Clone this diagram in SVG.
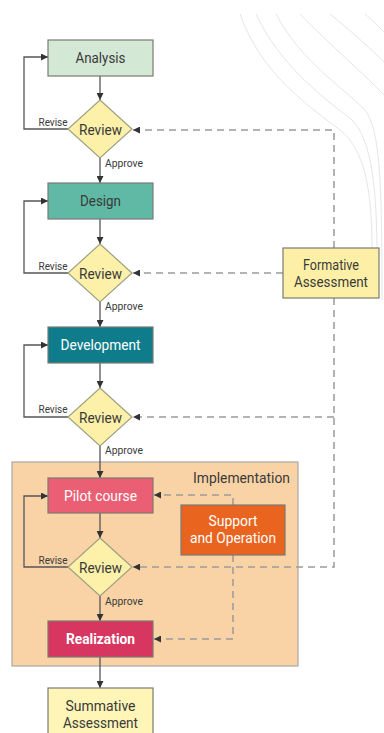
<svg xmlns="http://www.w3.org/2000/svg" width="384" height="733" viewBox="0 0 384 733">
  <style>
    .box { stroke: #7a7a72; stroke-width: 1.2; }
    .dia { fill: #fdf1a9; stroke: #a09f80; stroke-width: 1.2; }
    .t { font-family: Roboto, "Liberation Sans", sans-serif; fill: #3a3a3a; text-anchor: middle; }
    .tw { fill: #ffffff; }
    .lbl { font-size: 14px; }
    .rv { font-size: 15px; }
    .sm { font-size: 10px; }
    .flow { fill: none; stroke: #555; stroke-width: 1.3; }
    .dash { fill: none; stroke: #9a9a9a; stroke-width: 1.5; stroke-dasharray: 7 5; }
    .deco { fill: none; stroke: #e6e6e6; stroke-width: 1; }
  </style>
  <defs>
    <marker id="ah" viewBox="0 0 10 10" refX="10" refY="5" markerWidth="7" markerHeight="7" markerUnits="userSpaceOnUse" orient="auto">
      <path d="M0,0 L10,5 L0,10 z" fill="#333"/>
    </marker>
  </defs>

  <rect width="384" height="733" fill="#ffffff"/>

  <!-- decorative contour lines, top right -->
  <g id="decoration">
    <path class="deco" d="M240,14 C260,70 300,100 340,130 C365,150 372,190 372,250"/>
    <path class="deco" d="M256,14 C280,65 320,95 352,120 C372,140 377,190 377,258"/>
    <path class="deco" d="M276,14 C300,60 340,85 365,110 C380,130 382,180 382,300"/>
    <path class="deco" d="M300,14 C330,45 360,70 384,95"/>
    <path class="deco" d="M330,14 C350,30 372,50 384,62"/>
    <path class="deco" d="M365,14 C372,20 380,28 384,32"/>
  </g>

  <!-- implementation phase container -->
  <g id="implementation">
    <rect x="12" y="462" width="286" height="204" fill="#f9d3a5" stroke="#a8a8a8" stroke-width="1.2"/>
    <text class="t" x="290" y="483" font-size="14" text-anchor="end" style="text-anchor:end" textLength="97" lengthAdjust="spacingAndGlyphs">Implementation</text>
  </g>

  <!-- connectors -->
  <g id="connectors">
    <!-- main flow -->
    <path class="flow" d="M100,76 V100" marker-end="url(#ah)"/>
    <path class="flow" d="M100,158 V183" marker-end="url(#ah)"/>
    <path class="flow" d="M100,219 V244" marker-end="url(#ah)"/>
    <path class="flow" d="M100,302 V327" marker-end="url(#ah)"/>
    <path class="flow" d="M100,363 V388" marker-end="url(#ah)"/>
    <path class="flow" d="M100,446 V478" marker-end="url(#ah)"/>
    <path class="flow" d="M100,513 V538" marker-end="url(#ah)"/>
    <path class="flow" d="M100,596 V621" marker-end="url(#ah)"/>
    <path class="flow" d="M100,657 V688" marker-end="url(#ah)"/>
    <!-- revise loops -->
    <path class="flow" d="M68,129 H24 V57 H48" marker-end="url(#ah)"/>
    <path class="flow" d="M68,273 H24 V201 H48" marker-end="url(#ah)"/>
    <path class="flow" d="M68,417 H24 V345 H48" marker-end="url(#ah)"/>
    <path class="flow" d="M68,567 H24 V496 H48" marker-end="url(#ah)"/>
    <!-- formative assessment feedback -->
    <path class="dash" d="M334,248 V130 H133" marker-end="url(#ah)"/>
    <path class="dash" d="M283,273 H133" marker-end="url(#ah)"/>
    <path class="dash" d="M334,298 V567 H133" marker-end="url(#ah)"/>
    <path class="dash" d="M334,417 H133" marker-end="url(#ah)"/>
    <!-- support and operation -->
    <path class="dash" d="M233,505 V495 H154" marker-end="url(#ah)"/>
    <path class="dash" d="M233,555 V639 H154" marker-end="url(#ah)"/>

    <!-- edge labels -->
    <text class="t sm" x="53" y="126" textLength="29" lengthAdjust="spacingAndGlyphs">Revise</text>
    <text class="t sm" x="124" y="167" textLength="38" lengthAdjust="spacingAndGlyphs">Approve</text>
    <text class="t sm" x="53" y="270" textLength="29" lengthAdjust="spacingAndGlyphs">Revise</text>
    <text class="t sm" x="124" y="310" textLength="38" lengthAdjust="spacingAndGlyphs">Approve</text>
    <text class="t sm" x="53" y="413" textLength="29" lengthAdjust="spacingAndGlyphs">Revise</text>
    <text class="t sm" x="124" y="454" textLength="38" lengthAdjust="spacingAndGlyphs">Approve</text>
    <text class="t sm" x="53" y="564" textLength="29" lengthAdjust="spacingAndGlyphs">Revise</text>
    <text class="t sm" x="124" y="605" textLength="38" lengthAdjust="spacingAndGlyphs">Approve</text>
  </g>

  <!-- nodes -->
  <g id="analysis">
    <rect class="box" x="48" y="40" width="105" height="36" fill="#d4e8d6"/>
    <text class="t lbl" x="100.5" y="63" textLength="50" lengthAdjust="spacingAndGlyphs">Analysis</text>
  </g>
  <g id="review1">
    <polygon class="dia" points="100,100 132,129 100,158 68,129"/>
    <text class="t rv" x="100.5" y="135" textLength="43" lengthAdjust="spacingAndGlyphs">Review</text>
  </g>

  <g id="design">
    <rect class="box" x="48" y="183" width="105" height="36" fill="#5fb9a5"/>
    <text class="t lbl" x="100.5" y="206" textLength="41" lengthAdjust="spacingAndGlyphs">Design</text>
  </g>
  <g id="review2">
    <polygon class="dia" points="100,244 132,273 100,302 68,273"/>
    <text class="t rv" x="100.5" y="279" textLength="43" lengthAdjust="spacingAndGlyphs">Review</text>
  </g>

  <g id="development">
    <rect class="box" x="48" y="327" width="105" height="36" fill="#0e7c8b"/>
    <text class="t lbl tw" x="100.5" y="350" textLength="80" lengthAdjust="spacingAndGlyphs">Development</text>
  </g>
  <g id="review3">
    <polygon class="dia" points="100,388 132,417 100,446 68,417"/>
    <text class="t rv" x="100.5" y="423" textLength="43" lengthAdjust="spacingAndGlyphs">Review</text>
  </g>

  <g id="formative">
    <rect class="box" x="283" y="248" width="96" height="50" fill="#fdf0a6"/>
    <text class="t lbl" x="331" y="270" textLength="56" lengthAdjust="spacingAndGlyphs">Formative</text>
    <text class="t lbl" x="331" y="287" textLength="74" lengthAdjust="spacingAndGlyphs">Assessment</text>
  </g>

  <g id="pilot">
    <rect class="box" x="48" y="478" width="105" height="35" fill="#ea5f74"/>
    <text class="t lbl tw" x="100.5" y="501" textLength="73" lengthAdjust="spacingAndGlyphs">Pilot course</text>
  </g>
  <g id="support">
    <rect class="box" x="181" y="505" width="104" height="50" fill="#e9641e"/>
    <text class="t lbl tw" x="233" y="526" textLength="49" lengthAdjust="spacingAndGlyphs">Support</text>
    <text class="t lbl tw" x="233" y="543" textLength="86" lengthAdjust="spacingAndGlyphs">and Operation</text>
  </g>
  <g id="review4">
    <polygon class="dia" points="100,538 132,567 100,596 68,567"/>
    <text class="t rv" x="100.5" y="573" textLength="43" lengthAdjust="spacingAndGlyphs">Review</text>
  </g>

  <g id="realization">
    <rect class="box" x="48" y="621" width="105" height="36" fill="#d6365f"/>
    <text class="t lbl tw" x="100.5" y="644" font-weight="bold" textLength="69" lengthAdjust="spacingAndGlyphs">Realization</text>
  </g>

  <g id="summative">
    <rect class="box" x="48" y="688" width="105" height="50" fill="#fef5b6"/>
    <text class="t lbl" x="100.5" y="711" textLength="70" lengthAdjust="spacingAndGlyphs">Summative</text>
    <text class="t lbl" x="100.5" y="728" textLength="75" lengthAdjust="spacingAndGlyphs">Assessment</text>
  </g>
</svg>
